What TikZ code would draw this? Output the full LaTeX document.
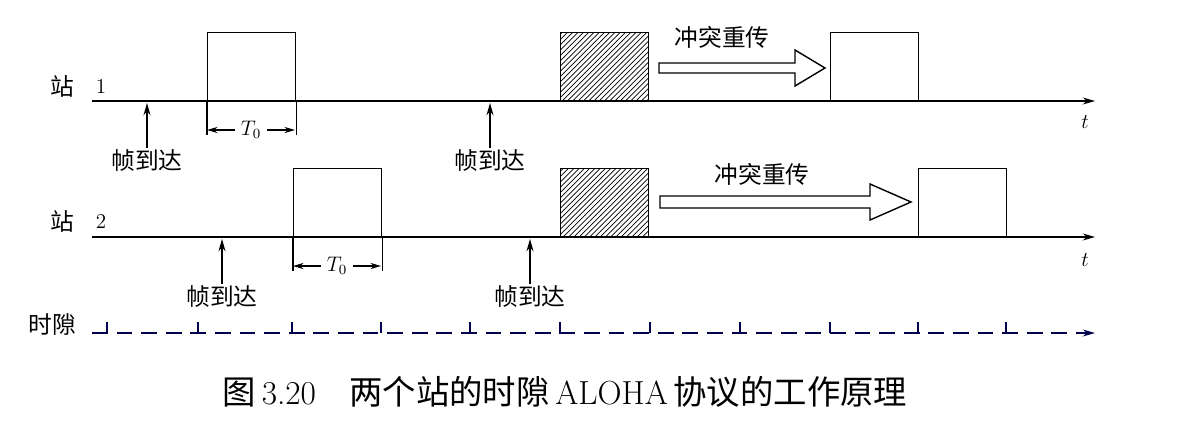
\documentclass[tikz,border=0pt]{standalone}
\usepackage{fontspec}
\newfontfamily\cjk{Noto Sans CJK SC}
\usetikzlibrary{positioning}
\usetikzlibrary{patterns}
\usetikzlibrary{arrows.meta}

\tikzset{
  frame/.style={draw, thick, minimum width=88*0.02cm, minimum height=68*0.02cm, inner sep=0pt},
  hatched/.style={frame, pattern=north east lines},
  lbl/.style={font=\cjk\fontsize{13.5}{13.5}\selectfont, inner sep=1pt},
  axis/.style={thick, -{Stealth[length=7pt,width=4pt]}},
  hollow/.style={draw, thick, fill=white}
}

\begin{document}
\begin{tikzpicture}[x=0.02cm, y=-0.02cm]
  \useasboundingbox (0,0) rectangle (1185,426);

  % Ejes
  \coordinate (a1s) at (92,101);  \coordinate (a1e) at (1095,101);
  \coordinate (a2s) at (92,237);  \coordinate (a2e) at (1095,237);
  \coordinate (sls) at (92,333);  \coordinate (sle) at (1095,333);
  \draw[axis] (a1s) -- (a1e);
  \draw[axis] (a2s) -- (a2e);
  \draw[axis, dashed, dash pattern=on 9pt off 5pt, color=black!70!blue] (sls) -- (sle);
  \node[font=\itshape\large] (t1) at (1085,122) {$t$};
  \node[font=\itshape\large] (t2) at (1085,260) {$t$};

  % Etiquetas
  \node[lbl] (st1) at (62,86) {站};
  \node[font=\large] (n1) at (101,86) {1};
  \node[lbl] (st2) at (62,221) {站};
  \node[font=\large] (n2) at (101,221) {2};
  \node[lbl] (slot) at (52,325) {时隙};

  % Ranuras
  \foreach \x in {107,198,292,381,470,560,650,740,830,918,1006}
    \draw[thick, color=black!70!blue] (\x,333) -- (\x,322);

  % Tramas estacion 1
  \node[frame, anchor=south west] (f1a) at (207,101) {};
  \node[hatched, anchor=south west] (f1b) at (560,101) {};
  \node[frame, anchor=south west] (f1c) at (830,101) {};
  % Tramas estacion 2
  \node[frame, anchor=south west] (f2a) at (293,237) {};
  \node[hatched, anchor=south west] (f2b) at (560,237) {};
  \node[frame, anchor=south west] (f2c) at (918,237) {};

  % Llegadas
  \node[lbl] (r1a) at (147,161) {帧到达};
  \node[lbl] (r1b) at (490,161) {帧到达};
  \node[lbl] (r2a) at (222,297) {帧到达};
  \node[lbl] (r2b) at (530,297) {帧到达};
  \coordinate (p1a) at (147,103);
  \coordinate (p1b) at (490,103);
  \coordinate (p2a) at (222,239);
  \coordinate (p2b) at (530,239);
  \draw[thick, -{Stealth[length=7pt,width=4pt]}] (r1a) -- (p1a);
  \draw[thick, -{Stealth[length=7pt,width=4pt]}] (r1b) -- (p1b);
  \draw[thick, -{Stealth[length=7pt,width=4pt]}] (r2a) -- (p2a);
  \draw[thick, -{Stealth[length=7pt,width=4pt]}] (r2b) -- (p2b);

  % Duracion T0
  \draw[thick] (f1a.south west) -- ++(0,34);
  \draw[thick] (f1a.south east) -- ++(0,34);
  \node[font=\large] (T1) at (251,130) {$T_0$};
  \draw[thick, -{Stealth[length=6pt,width=3.5pt]}] (T1.west) -- (207,130);
  \draw[thick, -{Stealth[length=6pt,width=3.5pt]}] (T1.east) -- (295,130);
  \draw[thick] (f2a.south west) -- ++(0,34);
  \draw[thick] (f2a.south east) -- ++(0,34);
  \node[font=\large] (T2) at (337,266) {$T_0$};
  \draw[thick, -{Stealth[length=6pt,width=3.5pt]}] (T2.west) -- (293,266);
  \draw[thick, -{Stealth[length=6pt,width=3.5pt]}] (T2.east) -- (381,266);

  % Retransmision
  \draw[hollow] (659,63) -- (795,63) -- (795,50) -- (825,68) -- (795,86) -- (795,73) -- (659,73) -- cycle;
  \node[lbl] (c1) at (722,37) {冲突重传};
  \draw[hollow] (660,196) -- (870,196) -- (870,184) -- (911,202) -- (870,220) -- (870,208) -- (660,208) -- cycle;
  \node[lbl] (c2) at (762,174) {冲突重传};

  % Pie
  \node[font=\fontsize{19}{19}\selectfont] (cap) at (565,392) {{\cjk 图}\,3.20\quad{\cjk 两个站的时隙}\,ALOHA\,{\cjk 协议的工作原理}};
\end{tikzpicture}
\end{document}
